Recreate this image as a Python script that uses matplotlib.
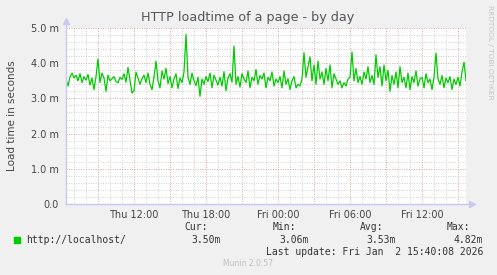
import datetime as dt
import numpy as np
import matplotlib
matplotlib.use('Agg')
import matplotlib.pyplot as plt
import matplotlib.dates as mdates
from matplotlib.ticker import MultipleLocator, FuncFormatter

# load time in milliseconds, one sample every 10 minutes, Thu 06:20 -> Fri 15:40
load_ms = [
    3.55, 3.35, 3.60, 3.72, 3.58, 3.66, 3.50, 3.70, 3.45, 3.62, 3.52, 3.68, 3.38, 3.58, 3.25, 3.62,
    4.12, 3.45, 3.72, 3.58, 3.20, 3.66, 3.50, 3.56, 3.62, 3.48, 3.44, 3.60, 3.54, 3.70, 3.46, 3.88, 3.52, 3.15,
    3.22, 3.75, 3.58, 3.40, 3.56, 3.66, 3.45, 3.72, 3.40, 3.25, 3.62, 4.06, 3.50, 3.30, 3.78, 3.55, 3.86, 3.42,
    3.62, 3.30, 3.55, 3.70, 3.28, 3.58, 3.45, 3.75, 4.82, 3.60, 3.40, 3.72, 3.50, 3.36, 3.60, 3.06, 3.55, 3.40,
    3.62, 3.48, 3.72, 3.30, 3.66, 3.52, 3.38, 3.60, 3.35, 3.76, 3.22, 3.58, 3.70, 3.46, 4.49, 3.40, 3.62, 3.32,
    3.70, 3.55, 3.45, 3.78, 3.30, 3.60, 3.50, 3.82, 3.40, 3.65, 3.55, 3.72, 3.30, 3.60, 3.50, 3.75, 3.35, 3.55,
    3.45, 3.62, 3.30, 3.78, 3.40, 3.56, 3.25, 3.50, 3.62, 3.30, 3.40, 3.35, 3.55, 4.30, 3.60, 3.90, 4.18, 3.50,
    3.95, 3.40, 4.06, 3.55, 3.75, 3.40, 3.85, 3.50, 3.95, 3.30, 3.70, 3.55, 3.40, 3.50, 3.30, 3.45, 3.35, 3.55,
    3.60, 4.32, 3.50, 3.85, 3.45, 3.62, 3.40, 3.75, 3.55, 3.90, 3.45, 3.65, 3.40, 4.24, 3.60, 3.90, 3.35, 3.95,
    3.50, 3.80, 3.20, 3.65, 3.40, 3.75, 3.30, 3.90, 3.45, 3.60, 3.30, 3.72, 3.25, 3.62, 3.45, 3.78, 3.35, 3.55,
    3.60, 3.30, 3.70, 3.45, 3.55, 3.25, 3.60, 4.29, 3.55, 3.40, 3.65, 3.30, 3.58, 3.45, 3.62, 3.25, 3.55, 3.40,
    3.60, 3.35, 3.75, 4.03, 3.50,
]
end_time = dt.datetime(2026, 1, 2, 15, 40, 8)
step = dt.timedelta(minutes=10)
times = [end_time - step * (len(load_ms) - 1 - i) for i in range(len(load_ms))]

legend_label = 'http://localhost/'
stats = {'Cur:': '3.50m', 'Min:': '3.06m', 'Avg:': '3.53m', 'Max:': '4.82m'}
title = 'HTTP loadtime of a page - by day'

W, H = 497, 275
fig = plt.figure(figsize=(W / 100, H / 100), dpi=100, facecolor='#F0F0F0')
ax = fig.add_axes([66 / W, 1 - 204 / H, 400 / W, 176 / H])
ax.set_facecolor('white')

ax.plot(times, load_ms, color='#00CC00', lw=0.9, zorder=3)

ax.set_xlim(times[0], times[-1])
ax.set_ylim(0, 5.0)

# grid like rrdtool
ax.xaxis.set_major_locator(mdates.HourLocator(byhour=range(0, 24, 3)))
ax.xaxis.set_minor_locator(mdates.HourLocator())
ax.xaxis.set_major_formatter(FuncFormatter(
    lambda v, p: mdates.num2date(v).strftime('%a %H:%M') if mdates.num2date(v).hour % 6 == 0 else ''))
ax.yaxis.set_major_locator(MultipleLocator(1.0))
ax.yaxis.set_minor_locator(MultipleLocator(0.2))
ax.yaxis.set_major_formatter(FuncFormatter(lambda v, p: '0.0' if v == 0 else '%.1f m' % v))

ax.grid(which='minor', color='#CFCFCF', ls=(0, (1, 1.5)), lw=0.7)
ax.grid(which='major', color='#E3A3A3', ls=(0, (1, 1.5)), lw=0.7)
ax.set_axisbelow(True)

for s in ax.spines.values():
    s.set_visible(False)
ax.tick_params(which='both', length=0, labelsize=7, colors='#444444', pad=4)
ax.tick_params(axis='y', pad=5)

# axes with arrows
axis_col = '#C8C8F4'
ax.plot([0, 0], [0, 1.04], transform=ax.transAxes, color=axis_col, lw=1, clip_on=False, zorder=4)
ax.plot([0, 1.015], [0, 0], transform=ax.transAxes, color=axis_col, lw=1, clip_on=False, zorder=4)
ax.plot([0], [1.04], marker='^', ms=4, color=axis_col, transform=ax.transAxes, clip_on=False)
ax.plot([1.015], [0], marker='>', ms=4, color=axis_col, transform=ax.transAxes, clip_on=False)

fig.text(248 / W, 1 - 18 / H, title, ha='center', va='center', fontsize=9.2, color='#555555')
fig.text(12 / W, 1 - 116 / H, 'Load time in seconds', rotation=90, ha='center', va='center',
         fontsize=7.5, color='#444444')
fig.text(490 / W, 1 - 5 / H, 'RRDTOOL / TOBI OETIKER', rotation=270, ha='center', va='top',
         fontsize=5.3, color='#C4C4C4')

# legend block
mono = 'DejaVu Sans Mono'
fig.patches.append(plt.Rectangle((14 / W, 1 - 243 / H), 6 / W, 6 / H, transform=fig.transFigure,
                                 color='#00CC00'))
fig.text(26 / W, 1 - 240 / H, legend_label, family=mono, fontsize=7, color='#333333', va='center')
head_x = [208, 296, 383, 470]
val_x = [221, 309, 396, 483]
for (k, v), hx, vx in zip(stats.items(), head_x, val_x):
    fig.text(hx / W, 1 - 227 / H, k, family=mono, fontsize=7, color='#333333', ha='right', va='center')
    fig.text(vx / W, 1 - 240 / H, v, family=mono, fontsize=7, color='#333333', ha='right', va='center')
fig.text(483 / W, 1 - 252 / H, 'Last update: Fri Jan  2 15:40:08 2026', family=mono, fontsize=7,
         color='#333333', ha='right', va='center')
fig.text(248 / W, 1 - 264 / H, 'Munin 2.0.57', fontsize=5.5, color='#C0C0C0', ha='center', va='center')

fig.savefig('out.png', dpi=100, facecolor=fig.get_facecolor())
